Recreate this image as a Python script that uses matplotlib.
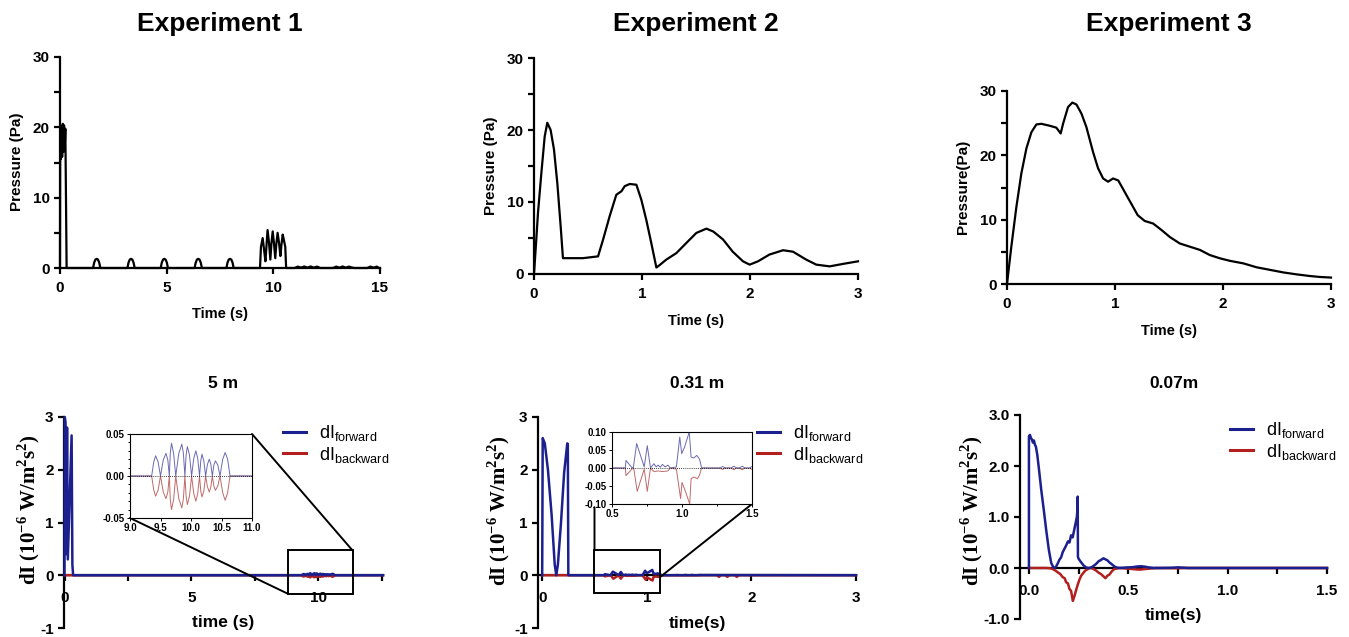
import matplotlib
matplotlib.use('Agg')
import matplotlib.pyplot as plt
from matplotlib.patches import Rectangle, ConnectionPatch
from matplotlib.lines import Line2D
from matplotlib.ticker import MultipleLocator, FormatStrFormatter

plt.rcParams['font.family'] = ['Liberation Sans', 'DejaVu Sans']
plt.rcParams['font.weight'] = 'bold'
plt.rcParams['axes.unicode_minus'] = False
plt.rcParams['mathtext.fontset'] = 'custom'
plt.rcParams['mathtext.rm'] = 'Liberation Sans:normal'
plt.rcParams['mathtext.bf'] = 'Liberation Serif:bold'

# ---------------- data ----------------
titles = ['Experiment 1', 'Experiment 2', 'Experiment 3']
subtitles = ['5 m', '0.31 m', '0.07m']

# Experiment 1 pressure
t_p1 = [0, 0.01, 0.04, 0.07, 0.1, 0.13, 0.16, 0.19, 0.22, 0.25, 0.28, 0.31,
        1.55, 1.6, 1.66, 1.72, 1.78, 1.84, 1.89,
        3.16, 3.21, 3.27, 3.33, 3.39, 3.45, 3.5,
        4.72, 4.77, 4.83, 4.89, 4.95, 5.01, 5.06,
        6.31, 6.36, 6.42, 6.48, 6.54, 6.6, 6.65,
        7.8, 7.85, 7.91, 7.97, 8.03, 8.09, 8.14,
        9.375, 9.42, 9.5, 9.57, 9.63, 9.68, 9.73, 9.8, 9.86, 9.91, 9.97, 10.03,
        10.09, 10.14, 10.2, 10.27, 10.33, 10.38, 10.44, 10.5, 10.56, 10.6,
        11.0, 11.15, 11.3, 11.45, 11.6, 11.75, 11.9, 12.05, 12.2,
        12.8, 12.95, 13.1, 13.25, 13.4, 13.55, 13.7, 13.8,
        14.4, 14.55, 14.7, 14.85, 14.95, 15.0]
p_p1 = [0, 19.5, 15.5, 20.2, 15.8, 20.5, 16.5, 20.3, 17.0, 19.8, 10.0, 0,
        0, 0.75, 1.2, 1.3, 1.2, 0.75, 0,
        0, 0.75, 1.2, 1.3, 1.2, 0.75, 0,
        0, 0.75, 1.2, 1.3, 1.2, 0.75, 0,
        0, 0.75, 1.2, 1.3, 1.2, 0.75, 0,
        0, 0.75, 1.2, 1.3, 1.2, 0.75, 0,
        0, 3.0, 4.25, 2.5, 0.95, 3.2, 5.4, 3.5, 1.2, 3.5, 5.2, 3.5,
        1.4, 3.4, 5.0, 3.5, 1.7, 3.3, 4.75, 3.9, 3.0, 0,
        0, 0.2, 0.05, 0.22, 0.05, 0.22, 0.05, 0.2, 0,
        0, 0.2, 0.05, 0.22, 0.05, 0.2, 0.05, 0,
        0, 0.2, 0.05, 0.2, 0, 0]

# Experiment 2 pressure
t_p2 = [0, 0.02, 0.037, 0.068, 0.099, 0.123, 0.154, 0.185, 0.216, 0.247, 0.268,
        0.284, 0.454, 0.593, 0.64, 0.70, 0.762, 0.81, 0.84, 0.886, 0.948, 0.994,
        1.04, 1.086, 1.133, 1.16, 1.225, 1.318, 1.41, 1.503, 1.596, 1.66, 1.75,
        1.84, 1.935, 1.997, 2.074, 2.18, 2.306, 2.398, 2.52, 2.614, 2.738, 2.86, 3.0]
p_p2 = [0, 4.5, 8.5, 14.0, 19.1, 21.0, 20.0, 17.3, 12.6, 6.6, 2.2,
        2.2, 2.2, 2.45, 4.8, 8.0, 11.0, 11.5, 12.2, 12.5, 12.4, 10.3,
        7.5, 4.3, 0.9, 1.2, 2.0, 2.9, 4.3, 5.7, 6.3, 5.9, 4.8,
        3.1, 1.76, 1.3, 1.76, 2.7, 3.3, 3.1, 2.0, 1.3, 1.06, 1.4, 1.76]

# Experiment 3 pressure
t_p3 = [0, 0.04, 0.087, 0.133, 0.18, 0.226, 0.272, 0.318, 0.395, 0.457, 0.488,
        0.497, 0.519, 0.565, 0.605, 0.643, 0.689, 0.735, 0.797, 0.843, 0.89,
        0.936, 0.982, 1.03, 1.09, 1.15, 1.21, 1.275, 1.353, 1.43, 1.508, 1.6,
        1.693, 1.786, 1.878, 1.97, 2.064, 2.19, 2.31, 2.434, 2.558, 2.68, 2.805,
        2.9, 3.0]
p_p3 = [0, 5.8, 12.0, 17.2, 21.1, 23.6, 24.8, 24.9, 24.6, 24.3, 23.6,
        23.4, 24.9, 27.5, 28.2, 27.9, 26.5, 24.4, 20.5, 18.0, 16.4,
        15.9, 16.4, 16.1, 14.3, 12.5, 10.7, 9.8, 9.4, 8.4, 7.3, 6.3,
        5.8, 5.3, 4.5, 4.0, 3.6, 3.2, 2.6, 2.2, 1.8, 1.5, 1.24,
        1.09, 1.0]

# 5 m intensity
t4f = [0, 0.01, 0.04, 0.07, 0.1, 0.13, 0.28, 0.31, 0.34,
       9.355, 9.39, 9.42, 9.46, 9.50, 9.545, 9.59, 9.62, 9.645, 9.66, 9.68,
       9.715, 9.75, 9.80, 9.85, 9.875, 9.90, 9.92, 9.94, 9.975, 10.01, 10.045,
       10.08, 10.11, 10.14, 10.16, 10.18, 10.21, 10.24, 10.27, 10.30, 10.325,
       10.35, 10.375, 10.40, 10.44, 10.475, 10.52, 10.56, 10.60, 10.64, 12.55]
v4f = [0, 3.0, 2.9, 0.4, 2.8, 0.3, 2.65, 0.2, 0,
       0, 0.017, 0.024, 0.017, 0, 0.019, 0.027, 0.019, 0, 0.027, 0.039,
       0.027, 0, 0.027, 0.038, 0.027, 0, 0.025, 0.035, 0.025, 0, 0.021,
       0.030, 0.021, 0, 0.018, 0.026, 0.018, 0, 0.014, 0.020, 0.014,
       0, 0.013, 0.018, 0.013, 0, 0.020, 0.028, 0.020, 0, 0]
t4b = [0, 9.355, 9.39, 9.42, 9.46, 9.50, 9.545, 9.59, 9.62, 9.645, 9.66, 9.68,
       9.715, 9.75, 9.80, 9.85, 9.875, 9.90, 9.92, 9.94, 9.975, 10.01, 10.045,
       10.08, 10.11, 10.14, 10.16, 10.18, 10.21, 10.24, 10.27, 10.30, 10.325,
       10.35, 10.375, 10.40, 10.44, 10.475, 10.52, 10.56, 10.60, 10.64, 12.55]
v4b = [0, 0, -0.017, -0.024, -0.017, 0, -0.019, -0.027, -0.019, 0, -0.028, -0.040,
       -0.028, 0, -0.027, -0.038, -0.027, 0, -0.024, -0.034, -0.024, 0, -0.021,
       -0.030, -0.021, 0, -0.018, -0.025, -0.018, 0, -0.013, -0.019, -0.013,
       0, -0.012, -0.017, -0.012, 0, -0.020, -0.029, -0.020, 0, 0]

# 0.31 m intensity
t5f = [0, 0.005, 0.025, 0.055, 0.09, 0.12, 0.135, 0.15, 0.18, 0.21, 0.24, 0.245, 0.25,
       0.595, 0.60, 0.64, 0.652, 0.676, 0.73, 0.752, 0.775, 0.80, 0.815, 0.83, 0.845,
       0.86, 0.88, 0.90, 0.915, 0.96, 0.984, 0.998, 1.02, 1.052, 1.065, 1.085, 1.105,
       1.125, 1.14, 1.27, 1.29, 1.31, 1.35, 1.37, 1.39, 1.41, 1.43, 1.45, 1.48, 1.50, 3.0]
v5f = [0, 2.6, 2.5, 2.0, 1.15, 0.2, 0.0, 0.2, 1.0, 1.95, 2.5, 2.48, 0,
       0, 0.021, 0.002, 0, 0.068, 0.003, 0.062, 0, 0.012, 0.003, 0.008, 0.002,
       0.01, 0.003, 0.008, 0, 0.003, 0.086, 0.04, 0.06, 0.1, 0.03, 0.028, 0.035,
       0.025, 0, 0, 0.004, 0, 0, 0.005, 0, 0, 0.005, 0, 0, 0.004, 0]
t5b = [0, 0.595, 0.60, 0.645, 0.655, 0.68, 0.73, 0.752, 0.775, 0.80, 0.83, 0.86,
       0.90, 0.915, 0.96, 0.99, 1.0, 1.02, 1.055, 1.065, 1.085, 1.11, 1.125, 1.14,
       1.27, 1.29, 1.31, 1.35, 1.37, 1.39, 1.41, 1.43, 1.45, 1.48, 1.50, 1.52,
       1.67, 1.69, 1.71, 1.75, 1.77, 1.79, 1.84, 1.86, 1.88, 3.0]
v5b = [0, 0, -0.021, -0.002, 0, -0.065, -0.003, -0.065, 0, -0.01, -0.008, -0.01,
       -0.008, 0, -0.003, -0.085, -0.04, -0.06, -0.1, -0.03, -0.025, -0.03, -0.02, 0,
       0, -0.004, 0, 0, -0.005, 0, 0, -0.005, 0, 0, -0.004, 0,
       0, -0.03, 0, 0, -0.03, 0, 0, -0.03, 0, 0]

# 0.07 m intensity
t6f = [0, 0.0, 0.005, 0.01, 0.015, 0.02, 0.025, 0.03, 0.035, 0.042, 0.05, 0.062,
       0.075, 0.087, 0.10, 0.112, 0.122, 0.13, 0.137, 0.145, 0.153, 0.162, 0.17,
       0.179, 0.187, 0.196, 0.204, 0.212, 0.22, 0.229, 0.235, 0.241, 0.244, 0.2455,
       0.2465, 0.25, 0.263, 0.275, 0.288, 0.30, 0.313, 0.325, 0.338, 0.35, 0.363,
       0.375, 0.385, 0.395, 0.405, 0.418, 0.43, 0.442, 0.455, 0.49, 0.52, 0.545,
       0.564, 0.585, 0.605, 0.63, 0.656, 0.72, 0.75, 0.78, 0.8, 1.5]
v6f = [0, 2.58, 2.61, 2.55, 2.52, 2.46, 2.5, 2.42, 2.38, 2.22, 1.95, 1.53,
       1.13, 0.74, 0.36, 0.1, 0.02, 0.0, 0.03, 0.09, 0.16, 0.21, 0.31,
       0.38, 0.44, 0.52, 0.5, 0.64, 0.6, 0.77, 0.88, 1.0, 1.13, 1.4,
       0.22, 0.18, 0.11, 0.05, 0.01, 0.0, 0.01, 0.04, 0.08, 0.13, 0.16,
       0.19, 0.17, 0.15, 0.11, 0.07, 0.03, 0.01, 0.0, 0.01, 0.015, 0.03,
       0.035, 0.025, 0.01, 0.0, 0.0, 0.005, 0.013, 0.005, 0.0, 0.0]
t6b = [0, 0.087, 0.105, 0.12, 0.133, 0.145, 0.158, 0.17, 0.18, 0.187, 0.196, 0.204,
       0.212, 0.221, 0.229, 0.237, 0.246, 0.255, 0.263, 0.275, 0.284, 0.30, 0.313,
       0.325, 0.338, 0.35, 0.363, 0.374, 0.385, 0.395, 0.405, 0.418, 0.43, 0.455,
       0.49, 0.52, 0.545, 0.564, 0.585, 0.605, 0.64, 0.75, 0.78, 1.5]
v6b = [0, 0, -0.005, -0.02, -0.05, -0.085, -0.12, -0.18, -0.2, -0.28, -0.3, -0.41,
       -0.45, -0.645, -0.55, -0.44, -0.32, -0.22, -0.15, -0.09, -0.05, -0.01, 0.0,
       -0.02, -0.05, -0.09, -0.12, -0.16, -0.2, -0.15, -0.13, -0.06, -0.02, 0.0,
       -0.01, -0.02, -0.03, -0.03, -0.02, -0.013, 0.0, -0.005, 0.0, 0.0]

BLUE = '#1c1f8e'
RED = '#b21f1f'
BLUE_L = '#6a6ab4'
RED_L = '#c06a6a'

W, H = 1349, 637
fig = plt.figure(figsize=(W / 100, H / 100), dpi=100)


def rect(l, t, r, b):
    return [l / W, 1 - b / H, (r - l) / W, (b - t) / H]


def style_common(ax):
    ax.spines[['top', 'right']].set_visible(False)
    for s in ['left', 'bottom']:
        ax.spines[s].set_linewidth(1.6)
    ax.tick_params(which='both', direction='out', length=4.5, width=1.6, labelsize=11)
    ax.tick_params(axis='y', pad=3)
    ax.tick_params(axis='x', pad=5)
    ax.patch.set_alpha(0)


# ---------------- top row: pressure ----------------
top_rects = [rect(60, 57, 380, 268), rect(534, 58, 858, 274), rect(1007, 91, 1331, 284)]
top_data = [(t_p1, p_p1, 15, 5), (t_p2, p_p2, 3, 1), (t_p3, p_p3, 3, 1)]
top_ylabels = ['Pressure (Pa)', 'Pressure (Pa)', 'Pressure(Pa)']
top_ylab_x = [-0.135, -0.133, -0.137]
top_xlab_y = [-0.218, -0.218, -0.246]
top_axes = []
for i in range(3):
    ax = fig.add_axes(top_rects[i])
    t, p, xmax, xstep = top_data[i]
    ax.plot(t, p, color='k', lw=1.6, clip_on=False, zorder=3)
    ax.set_xlim(0, xmax)
    ax.set_ylim(0, 30)
    ax.xaxis.set_major_locator(MultipleLocator(xstep))
    ax.yaxis.set_major_locator(MultipleLocator(10))
    ax.yaxis.set_minor_locator(MultipleLocator(5))
    style_common(ax)
    ax.text(top_ylab_x[i], 0.503, top_ylabels[i], transform=ax.transAxes, rotation=90,
            ha='center', va='center', fontsize=11, fontweight='bold')
    ax.text(0.5, top_xlab_y[i], 'Time (s)', transform=ax.transAxes,
            ha='center', va='center', fontsize=10.5, fontweight='bold')
    pos = ax.get_position()
    fig.text(pos.x0 + pos.width / 2, 1 - 30.7 / H, titles[i], ha='center', va='baseline',
             fontsize=19, fontweight='bold')
    top_axes.append(ax)

# ---------------- bottom row: intensity ----------------
ylab = r'dI (10$^{\mathbf{-6}}$ W/m$^{\mathbf{2}}$s$^{\mathbf{2}}$)'
bot_rects = [rect(64, 417, 383, 628), rect(538, 417, 856, 628), rect(1020, 415, 1327, 619)]
bot_data = [(t4f, v4f, t4b, v4b), (t5f, v5f, t5b, v5b), (t6f, v6f, t6b, v6b)]
bot_xlims = [(-0.02, 12.55), (-0.04, 3.0), (-0.045, 1.5)]
bot_xlabels = ['time (s)', 'time(s)', 'time(s)']
bot_xlab_y = [0.024, 0.021, 0.017]
bot_ylab_pos = [(-0.11, 0.56), (-0.123, 0.557), (-0.156, 0.53)]
legend_anchor = [(283, 423), (757, 423), (1230, 420)]
bot_axes = []
for i in range(3):
    ax = fig.add_axes(bot_rects[i])
    tf, vf, tb, vb = bot_data[i]
    ax.plot(tb, vb, color=RED, lw=1.8, clip_on=False, zorder=3)
    ax.plot(tf, vf, color=BLUE, lw=1.8, clip_on=False, zorder=3.1)
    ax.set_xlim(*bot_xlims[i])
    ax.set_ylim(-1, 3)
    ax.spines['bottom'].set_position(('data', 0))
    ax.yaxis.set_major_locator(MultipleLocator(1))
    style_common(ax)
    ax.tick_params(axis='x', pad=7)
    ax.text(0.5, bot_xlab_y[i], bot_xlabels[i], transform=ax.transAxes,
            ha='center', va='center', fontsize=12.5, fontweight='bold')
    ax.text(bot_ylab_pos[i][0], bot_ylab_pos[i][1], ylab, transform=ax.transAxes,
            rotation=90, ha='center', va='center', fontsize=15, fontweight='bold',
            family=['Liberation Serif', 'DejaVu Serif'])
    pos = ax.get_position()
    fig.text(pos.x0 + pos.width / 2, 1 - 388 / H, subtitles[i], ha='center', va='baseline',
             fontsize=12.5, fontweight='bold')
    handles = [Line2D([], [], color=BLUE, lw=2.2), Line2D([], [], color=RED, lw=2.2)]
    lx, ly = legend_anchor[i]
    ax.legend(handles, [r'dI$_{\mathrm{forward}}$', r'dI$_{\mathrm{backward}}$'],
              loc='upper left', bbox_to_anchor=(lx / W, 1 - ly / H),
              bbox_transform=fig.transFigure, frameon=False, borderpad=0,
              borderaxespad=0, handlelength=1.3, handletextpad=0.7, labelspacing=0.1,
              prop={'size': 13, 'weight': 'normal'})
    bot_axes.append(ax)

ax4, ax5, ax6 = bot_axes
ax4.xaxis.set_major_locator(MultipleLocator(5))
ax4.xaxis.set_minor_locator(MultipleLocator(2.5))
ax5.xaxis.set_major_locator(MultipleLocator(1))
ax6.xaxis.set_major_locator(MultipleLocator(0.5))
ax6.xaxis.set_minor_locator(MultipleLocator(0.25))
ax6.xaxis.set_major_formatter(FormatStrFormatter('%.1f'))
ax6.yaxis.set_major_formatter(FormatStrFormatter('%.1f'))

# zoom boxes on main axes
ax4.add_patch(Rectangle((8.8, -0.35), 2.55, 0.82, fill=False, lw=1.4, ec='k',
                        clip_on=False, zorder=5))
ax5.add_patch(Rectangle((0.5, -0.34), 0.63, 0.81, fill=False, lw=1.4, ec='k',
                        clip_on=False, zorder=5))


def style_inset(ax):
    ax.set_facecolor('white')
    for s in ax.spines.values():
        s.set_linewidth(0.8)
    ax.tick_params(which='both', direction='out', length=2.2, width=0.7,
                   labelsize=7, pad=1.5)
    ax.tick_params(which='minor', length=1.5)
    ax.set_zorder(6)


# inset for 5 m
ax4in = fig.add_axes(rect(130, 434, 252, 518))
ax4in.plot(t4b, v4b, color=RED_L, lw=0.7)
ax4in.plot(t4f, v4f, color=BLUE_L, lw=0.7)
ax4in.axhline(0, color='k', lw=0.6, ls=(0, (1, 1.5)), zorder=3)
ax4in.set_xlim(9, 11)
ax4in.set_ylim(-0.05, 0.05)
ax4in.xaxis.set_major_locator(MultipleLocator(0.5))
ax4in.yaxis.set_major_locator(MultipleLocator(0.05))
ax4in.yaxis.set_minor_locator(MultipleLocator(0.01))
ax4in.xaxis.set_major_formatter(FormatStrFormatter('%.1f'))
ax4in.yaxis.set_major_formatter(FormatStrFormatter('%.2f'))
style_inset(ax4in)

# inset for 0.31 m
ax5in = fig.add_axes(rect(612, 432, 752, 504))
ax5in.plot(t5b, v5b, color=RED_L, lw=0.7)
ax5in.plot(t5f, v5f, color=BLUE_L, lw=0.7)
ax5in.axhline(0, color='k', lw=0.6, ls=(0, (1, 1.5)), zorder=3)
ax5in.set_xlim(0.5, 1.5)
ax5in.set_ylim(-0.1, 0.1)
ax5in.xaxis.set_major_locator(MultipleLocator(0.5))
ax5in.xaxis.set_minor_locator(MultipleLocator(0.25))
ax5in.yaxis.set_major_locator(MultipleLocator(0.05))
ax5in.xaxis.set_major_formatter(FormatStrFormatter('%.1f'))
ax5in.yaxis.set_major_formatter(FormatStrFormatter('%.2f'))
style_inset(ax5in)

# connector lines
for xyA, cA, xyB, cB in [((1, 1), ax4in.transAxes, (11.35, 0.47), ax4.transData),
                         ((0, 0), ax4in.transAxes, (8.8, -0.35), ax4.transData),
                         ((0.5, 1.29), ax5.transData, (0.5, 0.47), ax5.transData),
                         ((1, 0), ax5in.transAxes, (1.13, -0.03), ax5.transData)]:
    con = ConnectionPatch(xyA=xyA, coordsA=cA, xyB=xyB, coordsB=cB,
                          color='k', lw=1.4, zorder=5)
    fig.add_artist(con)

fig.savefig('out.png', dpi=100)
